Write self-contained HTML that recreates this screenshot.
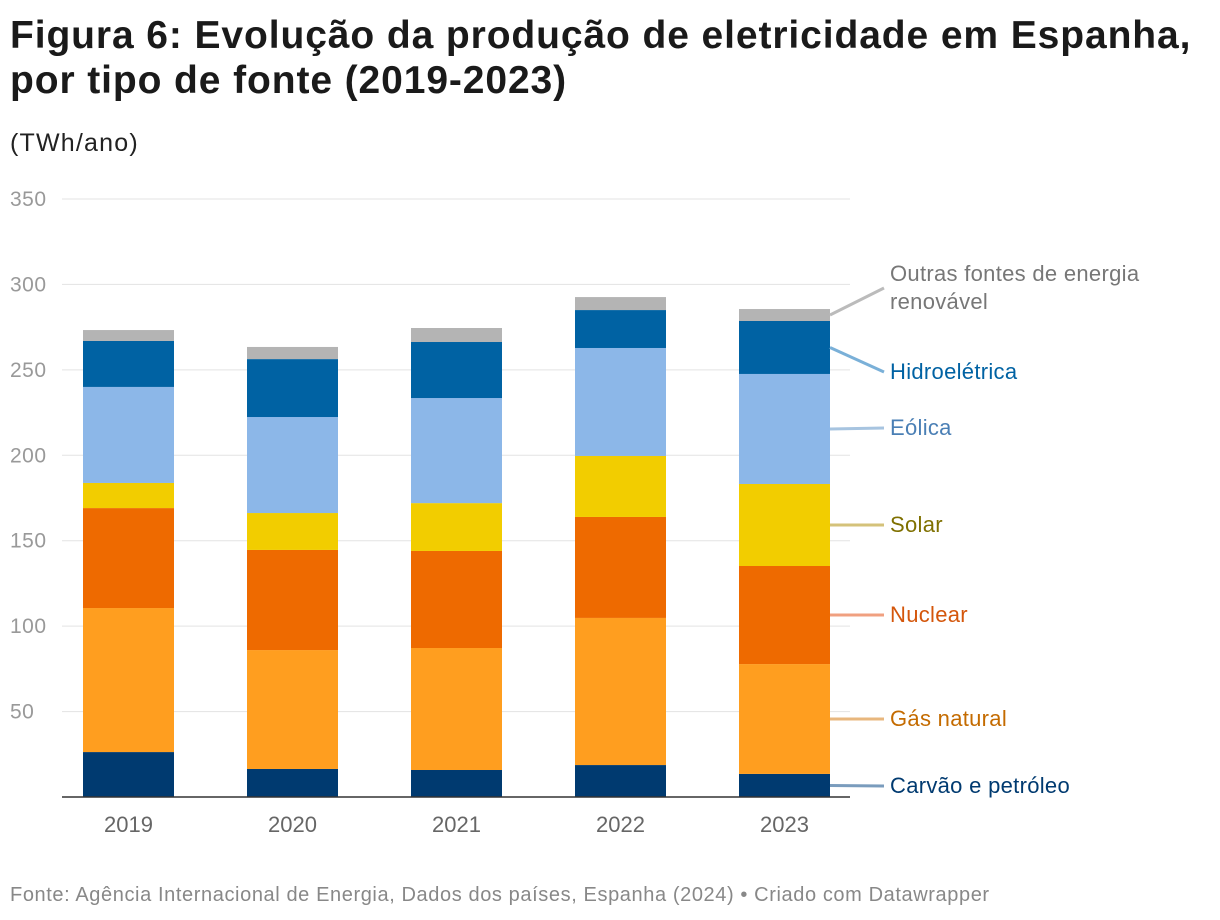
<!DOCTYPE html>
<html><head><meta charset="utf-8">
<style>
body{margin:0;background:#fff;width:1220px;height:920px;overflow:hidden;font-family:"Liberation Sans",sans-serif;}
#title{position:absolute;left:10px;top:13px;font-size:39px;font-weight:bold;line-height:45px;color:#1a1a1a;letter-spacing:0.9px;white-space:nowrap}
#unit{position:absolute;left:10px;top:129px;font-size:25px;color:#222;letter-spacing:1.2px}
#foot{position:absolute;left:10px;top:884px;font-size:20px;color:#888;letter-spacing:0.6px;white-space:nowrap}
svg{position:absolute;left:0;top:0}
</style></head><body>
<div id="title">Figura 6: Evolução da produção de eletricidade em Espanha,<br>por tipo de fonte (2019-2023)</div>
<div id="unit">(TWh/ano)</div>
<svg id="chart" width="1220" height="920"></svg>
<div id="foot">Fonte: Agência Internacional de Energia, Dados dos países, Espanha (2024) • Criado com Datawrapper</div>
<script>
const years=["2019","2020","2021","2022","2023"];
const coal=[26.3,16.4,15.8,18.7,13.5];
const gas=[84.3,69.6,71.4,86.1,64.3];
const nuclear=[58.5,58.6,56.8,59.1,57.4];
const solar=[14.7,21.6,28,35.7,48];
const wind=[56.2,56.2,61.5,63.2,64.4];
const hydro=[26.9,33.9,32.8,22.2,31];
const other=[6.4,7.1,8.2,7.6,7];
const yTicks=[50,100,150,200,250,300,350];
const seriesNames=["Carvão e petróleo","Gás natural","Nuclear","Solar","Eólica","Hidroelétrica","Outras fontes de energia renovável"];
const NS="http://www.w3.org/2000/svg";
const svg=document.getElementById('chart');
const y0=797,pxPer=(797-199)/350;
const Y=v=>y0-v*pxPer;
const X=i=>83+i*164;
const bw=91;
function el(t,a){const e=document.createElementNS(NS,t);for(const k in a)e.setAttribute(k,a[k]);svg.appendChild(e);return e;}
yTicks.forEach(t=>{
 const g=el('line',{x1:62,x2:850,y1:Y(t),y2:Y(t),stroke:'#e3e3e3','stroke-width':1});
 
 
 const tx=el('text',{x:10,y:Y(t)+7,'font-size':21,fill:'#999','font-family':'Liberation Sans','letter-spacing':0.5});tx.textContent=t;
 
 
});
const series=[
 {d:coal,c:'#003a70',n:'coal'},{d:gas,c:'#ff9e1f',n:'gas'},{d:nuclear,c:'#ee6a00',n:'nuclear'},
 {d:solar,c:'#f2cd00',n:'solar'},{d:wind,c:'#8cb7e8',n:'wind'},{d:hydro,c:'#0062a3',n:'hydro'},{d:other,c:'#b4b4b4',n:'other'}];
const tops=[];
years.forEach((yr,i)=>{
 let cum=0;
 series.forEach((s,k)=>{
  const r=el('rect',{x:X(i),y:Y(cum+s.d[i]),width:bw,height:s.d[i]*pxPer,fill:s.c});
  
  
  cum+=s.d[i];
  if(i==4)tops.push(cum);
 });
 const t=el('text',{x:X(i)+bw/2,y:832,'font-size':22,fill:'#666','text-anchor':'middle','font-family':'Liberation Sans'});t.textContent=yr;
 
 
});
const ax=el('line',{x1:62,x2:850,y1:y0,y2:y0,stroke:'#333','stroke-width':1.5});


const lab=[
 {ly:786,tc:'#003a70',lc:'#7a9cbd'},{ly:719,tc:'#c46b00',lc:'#e8b77e'},{ly:615,tc:'#d4560b',lc:'#f0a080'},
 {ly:525,tc:'#7f7000',lc:'#d4c27a'},{ly:428,tc:'#4a7fb5',lc:'#a7c4e0'},{ly:372,tc:'#0062a3',lc:'#7ab0d8'},{ly:288,tc:'#777',lc:'#bbb'}];
const x4=X(4)+bw;
lab.forEach((l,k)=>{
 const prev=k?tops[k-1]:0;
 const mid=Y((prev+tops[k])/2);
 const ln=el('polyline',{points:`${x4},${mid} ${884},${l.ly}`,stroke:l.lc,'stroke-width':3,fill:'none'});
 
 
 const t=el('text',{x:890,y:l.ly+7,'font-size':22,fill:l.tc,'font-family':'Liberation Sans','letter-spacing':0.3});
 if(k==6){t.setAttribute('y',281);
  const a=document.createElementNS(NS,'tspan');a.setAttribute('x',890);a.textContent='Outras fontes de energia';t.appendChild(a);
  const b=document.createElementNS(NS,'tspan');b.setAttribute('x',890);b.setAttribute('dy',28);b.textContent='renovável';t.appendChild(b);
 } else t.textContent=seriesNames[k];
 
 
});
</script>
</body></html>
